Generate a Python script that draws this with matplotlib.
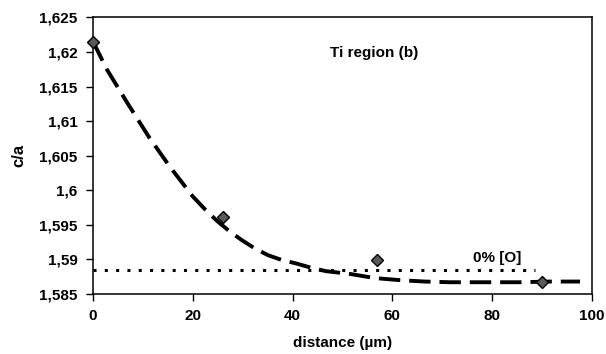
import matplotlib
matplotlib.use("Agg")
import matplotlib.pyplot as plt

# -------------------------
# Data
# -------------------------
distance = [0, 26, 57, 90]
c_over_a = [1.6215, 1.5961, 1.5899, 1.5868]

# trend curve through the measured points
trend_x = [0.0, 2.75, 6.9, 11.2, 15.4, 20.0, 22.5, 24.8, 27.3, 29.8, 32.4,
           35.1, 37.9, 40.8, 43.7, 46.7, 51.5, 56.5, 61.5, 66.5, 71.5,
           78.5, 85.6, 91.5, 97.6]
trend_y = [1.6215, 1.6175, 1.6126, 1.6077, 1.6034, 1.5991, 1.5972, 1.5956,
           1.5941, 1.5928, 1.5916, 1.5906, 1.5899, 1.5894, 1.5888, 1.5883,
           1.5879, 1.5873, 1.5870, 1.5868, 1.5867, 1.5867, 1.5867, 1.5868,
           1.5868]

# c/a of oxygen-free Ti
o_free_x = [0, 88.6]
o_free_y = [1.5885, 1.5885]

x_ticks = [0, 20, 40, 60, 80, 100]
y_ticks = [1.585, 1.59, 1.595, 1.6, 1.605, 1.61, 1.615, 1.62, 1.625]
y_tick_labels = ["1,585", "1,59", "1,595", "1,6", "1,605", "1,61", "1,615", "1,62", "1,625"]

# -------------------------
# Plot
# -------------------------
plt.rcParams["font.family"] = ["Liberation Sans", "DejaVu Sans"]
plt.rcParams["font.weight"] = "bold"

fig = plt.figure(figsize=(6.06, 3.54), dpi=100)
ax = fig.add_axes([0.1535, 0.1695, 0.8234, 0.7815])

ax.plot(o_free_x, o_free_y, color="black", lw=2.2, linestyle=(0, (1, 2.7)),
        dash_capstyle="butt")
ax.plot(trend_x, trend_y, color="black", lw=2.8, linestyle=(0, (5.5, 2.3)),
        dash_capstyle="butt")
ax.plot(distance, c_over_a, linestyle="none", marker="D", markersize=5.8,
        markerfacecolor="#5a5a5a", markeredgecolor="black", markeredgewidth=1.0,
        zorder=5, clip_on=False)

ax.text(56.3, 1.6198, "Ti region (b)", ha="center", va="center",
        fontsize=11, fontweight="bold")
ax.text(80.9, 1.5902, "0% [O]", ha="center", va="center",
        fontsize=11, fontweight="bold")

ax.set_xlim(0, 100)
ax.set_ylim(1.585, 1.625)
ax.set_xticks(x_ticks)
ax.set_yticks(y_ticks)
ax.set_yticklabels(y_tick_labels)
ax.tick_params(axis="both", direction="out", length=5, width=1.0,
               labelsize=11, pad=6, colors="black")

ax.set_xlabel("distance (µm)", fontsize=11, fontweight="bold", labelpad=9)
ax.set_ylabel("c/a", fontsize=12, fontweight="bold", labelpad=9)

for side in ["left", "right", "top", "bottom"]:
    ax.spines[side].set_linewidth(1.1)
    ax.spines[side].set_color("black")

fig.savefig("out.png", dpi=100)
